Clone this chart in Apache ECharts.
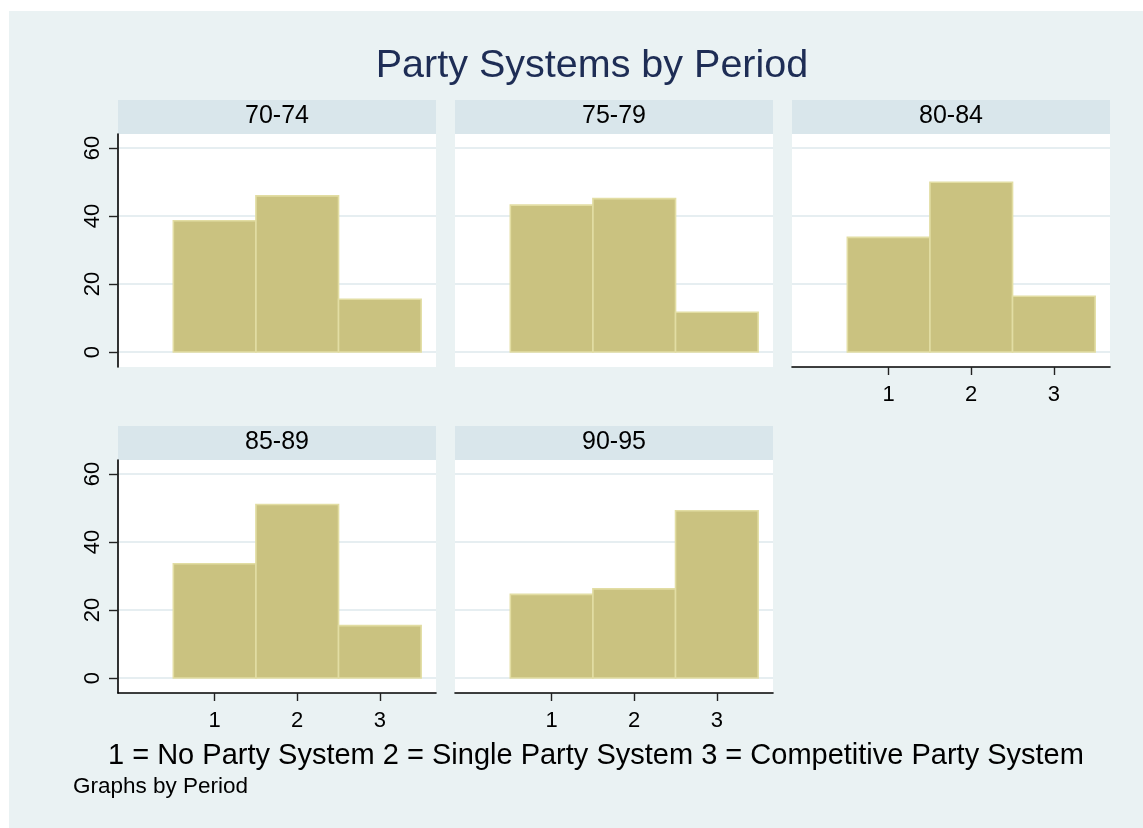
<!DOCTYPE html>
<html>
<head>
<meta charset="utf-8">
<script src="https://cdn.jsdelivr.net/npm/echarts@6/dist/echarts.min.js"></script>
<style>
html,body{margin:0;padding:0;background:#fff;}
#c{width:1143px;height:828px;}
</style>
</head>
<body>
<div id="c"></div>
<script>
// ---- data ----
const categories = [1, 2, 3];
const periods = ['70-74', '75-79', '80-84', '85-89', '90-95'];
const p7074 = [38.6, 45.9, 15.5];
const p7579 = [43.2, 45.1, 11.7];
const p8084 = [33.7, 49.9, 16.4];
const p8589 = [33.6, 51.0, 15.4];
const p9095 = [24.6, 26.2, 49.2];
const yTicks = [0, 20, 40, 60];
const xTicks = [1, 2, 3];
const titleText = 'Party Systems by Period';
const noteText = '1 = No Party System 2 = Single Party System 3 = Competitive Party System';
const captionText = 'Graphs by Period';

const seriesValues = [p7074, p7579, p8084, p8589, p9095];

const FONT = '"Liberation Sans", Arial, Helvetica, sans-serif';
const BG = '#EAF2F3';
const STRIP = '#D9E6EB';
const GRIDLINE = '#E6EEF1';
const FILL = '#CAC280';
const EDGE = '#E2DDA3';

// layout of panels: [left, top] of plot region
const panelPos = [
  [118, 134], [455, 134], [792, 134],
  [118, 460], [455, 460]
];
const PW = 318, PH = 233, STRIP_H = 34;
const showX = [false, false, true, true, true];
const showY = [true, false, false, true, false];

const grids = [], xAxes = [], yAxes = [], series = [], graphics = [];

graphics.push({type:'rect', z:-10, shape:{x:9, y:11, width:1134, height:817}, style:{fill:BG}});

panelPos.forEach((p, i) => {
  grids.push({left:p[0], top:p[1], width:PW, height:PH, show:true, backgroundColor:'#fff', borderWidth:0, containLabel:false});
  xAxes.push({
    type:'value', gridIndex:i, min:-0.17, max:3.68,
    axisLine:{show:showX[i], onZero:false, lineStyle:{color:'#000', width:1.6}},
    axisTick:{show:showX[i], length:8, customValues:xTicks, lineStyle:{color:'#222', width:1.4}},
    axisLabel:{show:showX[i], customValues:xTicks, margin:17, fontSize:22, color:'#000', fontFamily:FONT},
    splitLine:{show:false}
  });
  yAxes.push({
    type:'value', gridIndex:i, min:-4.4, max:64.1,
    axisLine:{show:showY[i], onZero:false, lineStyle:{color:'#000', width:1.6}},
    axisTick:{show:showY[i], length:9, customValues:yTicks, lineStyle:{color:'#222', width:1.4}},
    axisLabel:{show:showY[i], customValues:yTicks, rotate:90, margin:14, fontSize:22, color:'#000', fontFamily:FONT},
    splitLine:{show:true, lineStyle:{color:GRIDLINE, width:2}}
  });
  series.push({
    type:'custom', xAxisIndex:i, yAxisIndex:i,
    data: categories.map((c, k) => [c, seriesValues[i][k]]),
    encode:{x:0, y:1},
    renderItem: function(params, api){
      const x = api.value(0), y = api.value(1);
      const a = api.coord([x - 0.5, y]);
      const b = api.coord([x + 0.5, 0]);
      return {type:'rect', shape:{x:a[0], y:a[1], width:b[0]-a[0], height:b[1]-a[1]},
        style:{fill:FILL, stroke:EDGE, lineWidth:1.6}};
    }
  });
  // header strip
  graphics.push({type:'rect', shape:{x:p[0], y:p[1]-STRIP_H, width:PW, height:STRIP_H}, style:{fill:STRIP}});
  graphics.push({type:'text', x:p[0]+PW/2, y:p[1]-STRIP_H/2 - 1,
    style:{text:periods[i], font:'25px ' + FONT, fill:'#000', align:'center', verticalAlign:'middle', textAlign:'center', textVerticalAlign:'middle'}});
});

graphics.push({type:'text', x:592, y:66,
  style:{text:titleText, font:'39.5px ' + FONT, fill:'#1E2D55', align:'center', verticalAlign:'middle', textAlign:'center', textVerticalAlign:'middle'}});
graphics.push({type:'text', x:108, y:756,
  style:{text:noteText, font:'29px ' + FONT, fill:'#000', align:'left', verticalAlign:'middle', textAlign:'left', textVerticalAlign:'middle'}});
graphics.push({type:'text', x:73, y:787,
  style:{text:captionText, font:'22.5px ' + FONT, fill:'#000', align:'left', verticalAlign:'middle', textAlign:'left', textVerticalAlign:'middle'}});

const chart = echarts.init(document.getElementById('c'), null, {renderer:'canvas'});
chart.setOption({
  animation:false,
  backgroundColor:'#fff',
  grid:grids, xAxis:xAxes, yAxis:yAxes, series:series,
  graphic:{elements:graphics}
});
</script>
</body>
</html>
